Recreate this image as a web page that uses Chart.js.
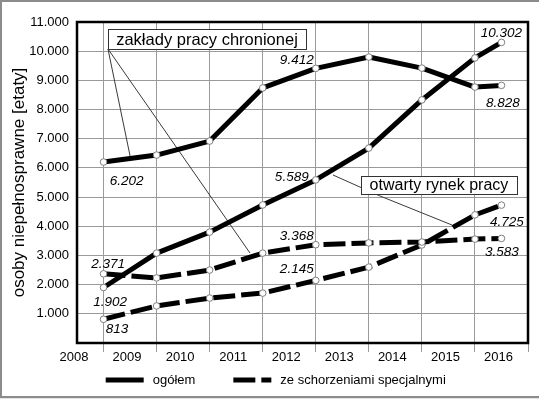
<!DOCTYPE html>
<html><head><meta charset="utf-8">
<script src="https://cdn.jsdelivr.net/npm/chart.js@4.4.1/dist/chart.umd.min.js"></script>
<style>html,body{margin:0;padding:0;background:#fff}canvas{display:block}</style>
</head><body>
<canvas id="c" width="539" height="399"></canvas>
<script>
// ---- data ----
const xTickLabels = ['2008', '2009', '2010', '2011', '2012', '2013', '2014', '2015', '2016'];
const yTickLabels = ['', '1.000', '2.000', '3.000', '4.000', '5.000', '6.000', '7.000', '8.000', '9.000', '10.000', '11.000'];
const xPositions = [2008.5, 2009.5, 2010.5, 2011.5, 2012.5, 2013.5, 2014.5, 2015.5, 2016];
const zakladyOgolem = [6202, 6440, 6920, 8740, 9412, 9800, 9420, 8770, 8828];
const otwartyOgolem = [1902, 3080, 3800, 4730, 5589, 6680, 8330, 9770, 10302];
const zakladySpecjalne = [2371, 2230, 2500, 3080, 3368, 3430, 3460, 3560, 3583];
const otwartySpecjalne = [813, 1270, 1540, 1710, 2145, 2600, 3360, 4390, 4725];
const seriesNames = ['zakłady pracy chronionej – ogółem', 'otwarty rynek pracy – ogółem',
  'zakłady pracy chronionej – ze schorzeniami specjalnymi', 'otwarty rynek pracy – ze schorzeniami specjalnymi'];
const legendLabels = ['ogółem', 'ze schorzeniami specjalnymi'];
const calloutTexts = ['zakłady pracy chronionej', 'otwarty rynek pracy'];
const yTitle = 'osoby niepełnosprawne [etaty]';

const FONT = '"Liberation Sans", Arial, sans-serif';
Chart.defaults.font.family = FONT;
Chart.defaults.color = '#000';

const fmt = v => String(v).replace(/\B(?=(\d{3})+(?!\d))/g, '.');
const pts = arr => xPositions.map((x, i) => ({x, y: arr[i]}));
const DASH = [22, 6];
const base = {
  borderColor: '#000', borderWidth: 5, tension: 0, fill: false,
  pointRadius: 3.3, pointHoverRadius: 3.3, pointBackgroundColor: '#fff',
  pointBorderColor: '#808080', pointBorderWidth: 1,
  borderJoinStyle: 'round', borderCapStyle: 'butt'
};

const decor = {
  id: 'decor',
  beforeDraw(chart) {
    const c = chart.ctx;
    c.save();
    c.fillStyle = '#fff';
    c.fillRect(0, 0, chart.width, chart.height);
    c.fillStyle = '#e4e4e4';
    c.fillRect(0, 397, chart.width, 2);
    c.strokeStyle = '#8c8c8c';
    c.lineWidth = 2;
    c.beginPath();
    c.moveTo(1, 397); c.lineTo(1, 1); c.lineTo(chart.width, 1);
    c.moveTo(0, 397); c.lineTo(chart.width, 397);
    c.stroke();
    c.restore();
  },
  beforeDatasetsDraw(chart, args, o) {
    const c = chart.ctx, a = chart.chartArea;
    const xs = chart.scales.x, ys = chart.scales.y;
    c.save();
    c.strokeStyle = '#000';
    c.lineWidth = 2.5;
    c.strokeRect(a.left, a.top, a.right - a.left, a.bottom - a.top);
    // callouts
    o.callouts.forEach(cb => {
      const ox = xs.getPixelForValue(cb.origin[0]), oy = ys.getPixelForValue(cb.origin[1]);
      c.strokeStyle = '#3a3a3a';
      c.lineWidth = 1;
      c.beginPath();
      cb.targets.forEach(t => {
        c.moveTo(ox, oy);
        c.lineTo(xs.getPixelForValue(t[0]), ys.getPixelForValue(t[1]));
      });
      c.stroke();
      const x0 = xs.getPixelForValue(cb.box[0]), y0 = ys.getPixelForValue(cb.box[1]);
      const x1 = xs.getPixelForValue(cb.box[2]), y1 = ys.getPixelForValue(cb.box[3]);
      c.fillStyle = '#fff';
      c.fillRect(x0, y0, x1 - x0, y1 - y0);
      c.strokeStyle = '#333';
      c.strokeRect(Math.round(x0) + 0.5, Math.round(y0) + 0.5, Math.round(x1 - x0), Math.round(y1 - y0));
      c.fillStyle = '#000';
      c.font = cb.font + 'px ' + FONT;
      c.textAlign = 'center';
      c.textBaseline = 'middle';
      c.fillText(cb.text, (x0 + x1) / 2, (y0 + y1) / 2 + 1);
    });
    c.restore();
  },
  afterDatasetsDraw(chart, args, o) {
    const c = chart.ctx;
    c.save();
    // data labels
    c.font = 'italic 13.5px ' + FONT;
    c.fillStyle = '#000';
    c.textAlign = 'center';
    c.textBaseline = 'middle';
    chart.data.datasets.forEach((ds, di) => {
      const meta = chart.getDatasetMeta(di);
      const offs = o.labelOffsets[di];
      Object.keys(offs).forEach(k => {
        const el = meta.data[+k];
        c.fillText(fmt(ds.data[+k].y), el.x + offs[k][0], el.y + offs[k][1]);
      });
    });
    // legend
    const L = o.legend;
    let x = L.x;
    c.font = '13px ' + FONT;
    c.textAlign = 'left';
    legendLabels.forEach((t, i) => {
      c.strokeStyle = '#000';
      c.lineWidth = 5;
      c.lineCap = 'butt';
      c.setLineDash(i === 0 ? [] : DASH);
      c.beginPath();
      c.moveTo(x, L.y); c.lineTo(x + L.sample, L.y);
      c.stroke();
      c.setLineDash([]);
      c.fillText(t, x + L.sample + L.gap, L.y);
      x += L.sample + L.gap + c.measureText(t).width + L.itemGap;
    });
    c.restore();
  }
};

new Chart(document.getElementById('c'), {
  type: 'line',
  data: {
    datasets: [
      {...base, label: seriesNames[0], data: pts(zakladyOgolem)},
      {...base, label: seriesNames[1], data: pts(otwartyOgolem)},
      {...base, label: seriesNames[2], data: pts(zakladySpecjalne), borderDash: DASH},
      {...base, label: seriesNames[3], data: pts(otwartySpecjalne), borderDash: DASH}
    ]
  },
  options: {
    responsive: false,
    animation: false,
    devicePixelRatio: 1,
    layout: {padding: {left: 0, top: 22, right: 11, bottom: 0}},
    plugins: {
      legend: {display: false},
      tooltip: {enabled: false},
      decor: {
        labelOffsets: [
          {0: [23, 19], 4: [-19, -8], 8: [1.5, 17.5]},
          {0: [6.5, 14.5], 4: [-24, -3], 8: [0, -9.5]},
          {0: [4.5, -10], 4: [-19, -8], 8: [0.5, 13.5]},
          {0: [13.5, 10], 4: [-19, -11], 8: [5.5, 17]}
        ],
        callouts: [
          {text: calloutTexts[0], font: 16.5, box: [2008.584, 10760, 2012.316, 10075],
           origin: [2008.584, 10075], targets: [[2009.0, 6410], [2011.26, 3084]]},
          {text: calloutTexts[1], font: 16, box: [2013.352, 5723, 2016.292, 5106],
           origin: [2013.71, 5038], targets: [[2012.825, 5757], [2015.067, 4044]]}
        ],
        legend: {x: 105.7, y: 380, sample: 38, gap: 9, itemGap: 38}
      }
    },
    scales: {
      x: {
        type: 'linear', min: 2008, max: 2016.5,
        afterFit: s => { s.height = 56; },
        border: {display: false},
        grid: {
          color: ctx => (ctx.tick && !Number.isInteger(ctx.tick.value)) ? '#9a9a9a' : 'rgba(0,0,0,0)',
          tickColor: ctx => (ctx.tick && !Number.isInteger(ctx.tick.value)) ? '#9a9a9a' : 'rgba(0,0,0,0)',
          tickLength: 9, lineWidth: 1
        },
        ticks: {
          stepSize: 0.5, autoSkip: false, maxRotation: 0, minRotation: 0,
          labelOffset: -3, padding: -2,
          font: {size: 13},
          callback: v => Number.isInteger(v) ? xTickLabels[v - 2008] : ''
        }
      },
      y: {
        type: 'linear', min: 0, max: 11000,
        afterFit: s => { s.width = 77; },
        border: {display: false},
        grid: {color: '#9a9a9a', lineWidth: 1, drawTicks: false},
        ticks: {
          stepSize: 1000, padding: 8, font: {size: 13},
          callback: v => yTickLabels[Math.round(v / 1000)]
        },
        title: {display: true, text: yTitle, font: {size: 17}, padding: {top: 9, bottom: 0}}
      }
    }
  },
  plugins: [decor]
});
</script>
</body></html>
